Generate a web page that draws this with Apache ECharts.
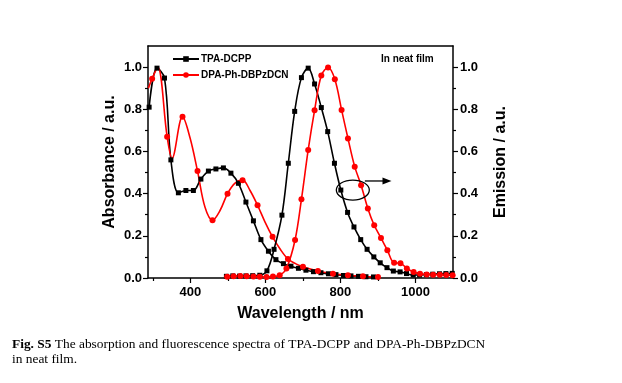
<!DOCTYPE html>
<html><head><meta charset="utf-8">
<script src="https://cdn.jsdelivr.net/npm/echarts@6/dist/echarts.min.js"></script>
<style>html,body{margin:0;padding:0;background:#fff}#c{width:622px;height:383px}</style>
</head><body><div id="c"></div>
<script>
// ---- data ----
const xMajorTicks = [400, 600, 800, 1000];
const xMinorTicks = [300, 500, 700, 900];
const yMajorTicks = [0, 0.2, 0.4, 0.6, 0.8, 1.0];
const yMinorTicks = [0.1, 0.3, 0.5, 0.7, 0.9];

const seriesNames = ['TPA-DCPP', 'DPA-Ph-DBPzDCN'];

// TPA-DCPP absorption
const tpaAbsX = [290,311,331,348,368,388,408,428,448,468,488,508,528,548,568,588,608,628,648,668,688,708,728,748,768,788,808,828,848,868,888];
const tpaAbsY = [0.81,0.995,0.948,0.56,0.404,0.415,0.415,0.469,0.507,0.517,0.522,0.497,0.449,0.36,0.271,0.182,0.127,0.087,0.068,0.056,0.046,0.037,0.03,0.025,0.02,0.016,0.012,0.01,0.008,0.006,0.005];

// DPA-Ph-DBPzDCN absorption (markers on every other point)
const dpaAbsX = [288,298,313,338,351,379,399,419,439,459,479,499,519,539,559,579,599,619,640,660,680,700,720,740,760,780,800,820,840,860,880,900];
const dpaAbsY = [0.90,0.945,1.0,0.67,0.567,0.765,0.665,0.507,0.335,0.274,0.32,0.40,0.45,0.464,0.415,0.345,0.265,0.195,0.135,0.09,0.068,0.053,0.042,0.033,0.026,0.02,0.016,0.013,0.01,0.008,0.006,0.005];

// TPA-DCPP emission
const tpaEmX = [496,513,531,548,566,585,604,623,644,661,678,696,714,731,749,766,784,801,819,836,854,871,889,906,924,941,959,976,994,1011,1029,1046,1064,1081,1098];
const tpaEmY = [0.008,0.01,0.009,0.01,0.011,0.013,0.034,0.136,0.298,0.544,0.79,0.95,0.995,0.92,0.808,0.694,0.544,0.417,0.311,0.242,0.182,0.136,0.10,0.072,0.049,0.033,0.029,0.021,0.014,0.014,0.016,0.018,0.02,0.021,0.022];

// DPA-Ph-DBPzDCN emission
const dpaEmX = [498,515,533,550,568,585,603,620,638,656,679,696,714,731,749,767,785,803,820,838,855,873,890,908,925,943,960,977,995,1012,1030,1047,1065,1082,1099];
const dpaEmY = [0.006,0.008,0.01,0.008,0.007,0.006,0.005,0.007,0.013,0.045,0.18,0.373,0.607,0.795,0.96,0.998,0.942,0.797,0.662,0.528,0.44,0.33,0.25,0.19,0.132,0.072,0.07,0.045,0.029,0.02,0.017,0.016,0.015,0.014,0.013];

const xMin = 287, xMax = 1100, yMin = 0, yMax = 1.1;

// annotation (data coordinates)
const ellipseCenter = [833, 0.417];
const arrowFrom = [865, 0.46];
const arrowTo = [936, 0.46];

// ---- chart ----
const chart = echarts.init(document.getElementById('c'), null, {renderer: 'canvas'});
const F = 'Liberation Sans, Arial, sans-serif';
const axisLineStyle = {color: '#000', width: 1.5};
const fmt = v => Number(v).toFixed(1);

function mkSeries(name, xs, ys, color, symbol, size, yIdx, alternate) {
  return {
    type: 'line', name: name, xAxisIndex: 0, yAxisIndex: yIdx,
    data: xs.map((x, i) => (alternate && i % 2 === 0) ? {value: [x, ys[i]], symbol: 'none'} : [x, ys[i]]),
    smooth: 0.35, symbol: symbol, symbolSize: size, showSymbol: true, showAllSymbol: true,
    lineStyle: {color: color, width: 1.6}, itemStyle: {color: color},
    animation: false, clip: true
  };
}

const option = {
  backgroundColor: '#fff',
  animation: false,
  grid: {left: 148, right: 169, top: 46, bottom: 105, containLabel: false},
  legend: {
    data: seriesNames, orient: 'vertical', left: 167, top: 49,
    itemWidth: 26, itemHeight: 7, itemGap: 6, selectedMode: false,
    textStyle: {fontFamily: F, fontWeight: 'bold', fontSize: 10, color: '#000', padding: [0,0,0,-3]}
  },
  xAxis: [
    {type: 'value', min: xMin, max: xMax, position: 'bottom',
     name: 'Wavelength / nm', nameLocation: 'middle', nameGap: 28,
     nameTextStyle: {fontFamily: F, fontWeight: 'bold', fontSize: 16, color: '#000'},
     axisLine: {show: true, onZero: false, lineStyle: axisLineStyle},
     axisTick: {show: true, inside: false, length: 5, customValues: xMajorTicks, lineStyle: {color: '#000', width: 1.2}},
     axisLabel: {customValues: xMajorTicks, formatter: v => String(v), margin: 8, fontFamily: F, fontWeight: 'bold', fontSize: 13, color: '#000'},
     splitLine: {show: false}},
    {type: 'value', min: xMin, max: xMax, position: 'bottom',
     axisLine: {show: false, onZero: false},
     axisTick: {show: true, inside: false, length: 3, customValues: xMinorTicks, lineStyle: {color: '#000', width: 1.2}},
     axisLabel: {show: false}, splitLine: {show: false}},
    {type: 'value', min: xMin, max: xMax, position: 'top',
     axisLine: {show: true, onZero: false, lineStyle: axisLineStyle},
     axisTick: {show: false}, axisLabel: {show: false}, splitLine: {show: false}}
  ],
  yAxis: [
    {type: 'value', min: yMin, max: yMax, position: 'left',
     name: 'Absorbance / a.u.', nameLocation: 'middle', nameGap: 30,
     nameTextStyle: {fontFamily: F, fontWeight: 'bold', fontSize: 16, color: '#000'},
     axisLine: {show: true, onZero: false, lineStyle: axisLineStyle},
     axisTick: {show: true, inside: false, length: 5, customValues: yMajorTicks, lineStyle: {color: '#000', width: 1.2}},
     axisLabel: {customValues: yMajorTicks, formatter: fmt, margin: 6, fontFamily: F, fontWeight: 'bold', fontSize: 13, color: '#000'},
     splitLine: {show: false}},
    {type: 'value', min: yMin, max: yMax, position: 'left',
     axisLine: {show: false, onZero: false},
     axisTick: {show: true, inside: false, length: 3, customValues: yMinorTicks, lineStyle: {color: '#000', width: 1.2}},
     axisLabel: {show: false}, splitLine: {show: false}},
    {type: 'value', min: yMin, max: yMax, position: 'right',
     name: 'Emission / a.u.', nameLocation: 'middle', nameGap: 40,
     nameTextStyle: {fontFamily: F, fontWeight: 'bold', fontSize: 16, color: '#000'},
     axisLine: {show: true, onZero: false, lineStyle: axisLineStyle},
     axisTick: {show: true, inside: false, length: 5, customValues: yMajorTicks, lineStyle: {color: '#000', width: 1.2}},
     axisLabel: {customValues: yMajorTicks, formatter: fmt, margin: 7, fontFamily: F, fontWeight: 'bold', fontSize: 13, color: '#000'},
     splitLine: {show: false}},
    {type: 'value', min: yMin, max: yMax, position: 'right',
     axisLine: {show: false, onZero: false},
     axisTick: {show: true, inside: false, length: 3, customValues: yMinorTicks, lineStyle: {color: '#000', width: 1.2}},
     axisLabel: {show: false}, splitLine: {show: false}}
  ],
  series: [
    mkSeries(seriesNames[0], tpaAbsX, tpaAbsY, '#000000', 'rect', 5, 0, false),
    mkSeries(seriesNames[1], dpaAbsX, dpaAbsY, '#ff0000', 'circle', 6, 0, true),
    mkSeries(seriesNames[0], tpaEmX, tpaEmY, '#000000', 'rect', 5, 2, false),
    mkSeries(seriesNames[1], dpaEmX, dpaEmY, '#ff0000', 'circle', 6, 2, false)
  ]
};
chart.setOption(option);

const finder = {xAxisIndex: 0, yAxisIndex: 0};
const ec = chart.convertToPixel(finder, ellipseCenter);
const a0 = chart.convertToPixel(finder, arrowFrom);
const a1 = chart.convertToPixel(finder, arrowTo);
const filmPos = chart.convertToPixel(finder, [908, 1.038]);

chart.setOption({
  graphic: [
    {type: 'ellipse', shape: {cx: ec[0], cy: ec[1], rx: 16.5, ry: 10}, style: {fill: 'none', stroke: '#000', lineWidth: 1.3}, z: 100},
    {type: 'line', shape: {x1: a0[0], y1: a0[1], x2: a1[0] - 7, y2: a1[1]}, style: {stroke: '#000', lineWidth: 1.3}, z: 100},
    {type: 'polygon', shape: {points: [[a1[0], a1[1]], [a1[0] - 9, a1[1] - 3.5], [a1[0] - 9, a1[1] + 3.5]]}, style: {fill: '#000'}, z: 100},
    {type: 'text', x: filmPos[0], y: filmPos[1], style: {text: 'In neat film', fontFamily: F, fontWeight: 'bold', fontSize: 10, fill: '#000', verticalAlign: 'middle'}, z: 100},
    {type: 'text', x: 12, y: 337, style: {
      text: '{b|Fig. S5} The absorption and fluorescence spectra of TPA-DCPP and DPA-Ph-DBPzDCN\nin neat film.',
      fontFamily: 'Liberation Serif, Times New Roman, serif', fontSize: 13.4, lineHeight: 15, fill: '#000',
      rich: {b: {fontFamily: 'Liberation Serif, Times New Roman, serif', fontWeight: 'bold', fontSize: 13.4, lineHeight: 15, fill: '#000'}}
    }}
  ]
});
</script></body></html>
